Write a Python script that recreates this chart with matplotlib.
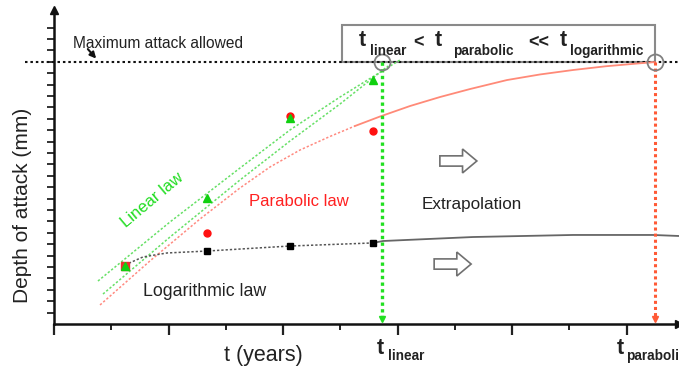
import matplotlib
matplotlib.use("Agg")
import matplotlib.pyplot as plt
import matplotlib.patches as mpatches

plt.rcParams['font.family'] = ['Liberation Sans', 'DejaVu Sans']

# ---------------- data (time units / depth units) ----------------
times = [0.62, 1.34, 2.06, 2.79]
linear_pts = [5.09, 11.05, 18.07, 21.40]
parabolic_pts = [5.09, 7.98, 18.25, 16.93]
log_pts = [5.09, 6.40, 6.84, 7.11]

linear_fit_a_t = [0.384, 1.013, 1.624, 2.061, 2.498, 3.022]
linear_fit_a_d = [3.77, 8.95, 13.68, 17.02, 19.91, 23.16]
linear_fit_b_t = [0.428, 1.013, 1.624, 2.061, 2.498, 2.917]
linear_fit_b_d = [2.63, 7.63, 12.63, 16.05, 19.30, 22.63]

parab_fit_t = [0.402, 0.838, 1.275, 1.624, 1.886, 2.148, 2.410, 2.629]
parab_fit_d = [1.67, 5.53, 9.21, 11.93, 13.77, 15.26, 16.45, 17.37]
parab_extra_t = [2.629, 2.847, 3.109, 3.371, 3.633, 3.956, 4.245, 4.533, 4.821, 5.118, 5.249]
parab_extra_d = [17.37, 18.20, 19.12, 19.91, 20.61, 21.40, 21.89, 22.28, 22.61, 22.87, 22.98]

log_fit_t = [0.620, 0.777, 0.987, 1.336, 2.061, 2.786]
log_fit_d = [5.18, 5.88, 6.23, 6.40, 6.84, 7.11]
log_extra_t = [2.786, 2.873, 3.659, 4.533, 5.231, 5.459]
log_extra_d = [7.11, 7.28, 7.63, 7.81, 7.81, 7.72]

max_attack = 23.0
t_linear = 2.865
t_parabolic = 5.249

x_major = [0, 1, 2, 3, 4, 5]
x_minor = [0.5, 1.5, 2.5, 3.5, 4.5]
y_ticks = list(range(1, 27))

# ---------------- figure ----------------
W, H = 679, 368
fig = plt.figure(figsize=(W / 100, H / 100), dpi=100)
ax = fig.add_axes([54 / W, 44 / H, 625 / W, 314 / H])
ax.set_xlim(0, 625 / 114.5)
ax.set_ylim(0, 314 / 11.4)

for s in ['top', 'right']:
    ax.spines[s].set_visible(False)
for s in ['left', 'bottom']:
    ax.spines[s].set_linewidth(1.8)
    ax.spines[s].set_color('#111111')

ax.set_xticks(x_major)
ax.set_xticks(x_minor, minor=True)
ax.set_xticklabels([])
ax.tick_params(axis='x', which='major', direction='out', length=8, width=1.6, color='#222222')
ax.tick_params(axis='x', which='minor', direction='out', length=4, width=1.4, color='#222222')
ax.set_yticks(y_ticks)
ax.set_yticklabels([])
ax.tick_params(axis='y', which='major', direction='out', length=5, width=1.3, color='#222222')

# axis arrowheads
ax.plot([0], [1.0], marker='^', color='#111111', ms=6, transform=ax.transAxes, clip_on=False)
ax.plot([1.0], [0], marker='>', color='#111111', ms=6, transform=ax.transAxes, clip_on=False)

# box with relation text (drawn below the dotted line)
rect = mpatches.Rectangle((2.515, max_attack), 2.734, 3.25, facecolor='white',
                          edgecolor='#8a8a8a', lw=1.5, clip_on=False, zorder=1)
ax.add_patch(rect)

# maximum attack line
ax.plot([-0.253, 625 / 114.5], [max_attack, max_attack], color='#111111', lw=1.5,
        linestyle=(0, (1.2, 1.4)), clip_on=False, zorder=2)

# fits
ax.plot(linear_fit_a_t, linear_fit_a_d, color='#66e066', lw=1.1, linestyle=(0, (1.5, 1.3)), zorder=3)
ax.plot(linear_fit_b_t, linear_fit_b_d, color='#66e066', lw=1.1, linestyle=(0, (1.5, 1.3)), zorder=3)
ax.plot(parab_fit_t, parab_fit_d, color='#ff8a80', lw=1.1, linestyle=(0, (1.5, 1.3)), zorder=3)
ax.plot(parab_extra_t, parab_extra_d, color='#ff8a78', lw=1.3, zorder=3)
ax.plot(log_fit_t, log_fit_d, color='#555555', lw=1.1, linestyle=(0, (1.5, 1.3)), zorder=3)
ax.plot(log_extra_t, log_extra_d, color='#666666', lw=1.3, zorder=3)

# vertical extrapolation lines
ax.plot([t_linear, t_linear], [max_attack, 0.45], color='#22e022', lw=2.4,
        linestyle=(0, (1, 1)), zorder=4)
ax.plot([t_linear], [0.4], marker='v', color='#22e022', ms=5, zorder=5)
ax.plot([t_parabolic, t_parabolic], [max_attack, 0.45], color='#ff5a36', lw=2.2,
        linestyle=(0, (1, 1)), zorder=4)
ax.plot([t_parabolic], [0.4], marker='v', color='#ff5a36', ms=5, zorder=5)

# circles at crossing points
ax.plot([t_linear, t_parabolic], [max_attack, max_attack], 'o', mfc='none', mec='#808080',
        ms=11.5, mew=1.3, zorder=6, clip_on=False)

# data points
ax.plot(times, log_pts, 's', color='#000000', ms=5, zorder=7)
ax.plot(times[1:], parabolic_pts[1:], 'o', color='#ff1010', ms=5, zorder=7)
ax.plot(times[:1], parabolic_pts[:1], 's', color='#e83030', ms=6, zorder=7)
ax.plot(times, linear_pts, '^', color='#10d010', ms=5.5, zorder=8)

# hollow arrows
for x0, y0 in [(3.37, 14.3), (3.32, 5.26)]:
    arr = mpatches.FancyArrow(x0, y0, 0.323, 0, width=0.9, head_width=2.1,
                              head_length=0.125, length_includes_head=True,
                              facecolor='white', edgecolor='#707070', lw=1.2, zorder=5)
    ax.add_patch(arr)


def ftext(px, py, s, **kw):
    fig.text(px / W, 1 - py / H, s, **kw)


tc = '#222222'
ftext(73, 43, 'Maximum attack allowed', fontsize=11.2, color=tc, va='center', ha='left')
ax.annotate('', xy=((98 - 54) / 114.5, max_attack + 0.1),
            xytext=((86 - 54) / 114.5, max_attack + 1.3),
            arrowprops=dict(arrowstyle='-|>', color='#111111', lw=1.5,
                            mutation_scale=9), annotation_clip=False)

ftext(152, 200, 'Linear law', fontsize=12, color='#22dd22', rotation=40,
      ha='center', va='center')
ftext(299, 202, 'Parabolic law', fontsize=12, color='#ff2020', ha='center', va='center')
ftext(472, 205, 'Extrapolation', fontsize=12.3, color=tc, ha='center', va='center')
ftext(205, 291, 'Logarithmic law', fontsize=12.8, color=tc, ha='center', va='center')

ftext(22, 205, 'Depth of attack (mm)', fontsize=15, color=tc, rotation=90,
      ha='center', va='center')
ftext(263, 355, 't (years)', fontsize=15.5, color=tc, ha='center', va='center')

# box text
bold = dict(fontweight='bold', color=tc)
ftext(362, 41, 't', fontsize=15.5, ha='center', va='center', **bold)
ftext(370, 51, 'linear', fontsize=9.8, ha='left', va='center', **bold)
ftext(418, 43, '<', fontsize=13, ha='center', va='center', **bold)
ftext(438, 41, 't', fontsize=15.5, ha='center', va='center', **bold)
ftext(453, 51, 'parabolic', fontsize=9.8, ha='left', va='center', **bold)
ftext(539, 43, '<<', fontsize=13, ha='center', va='center', **bold)
ftext(563, 41, 't', fontsize=15.5, ha='center', va='center', **bold)
ftext(570, 51, 'logarithmic', fontsize=9.8, ha='left', va='center', **bold)

# axis labels of special times (the second one runs off the right edge, as in the original)
ftext(380, 348, 't', fontsize=15.5, ha='center', va='center', **bold)
ftext(388, 356, 'linear', fontsize=9.8, ha='left', va='center', **bold)
ftext(620, 348, 't', fontsize=15.5, ha='center', va='center', **bold)
ftext(626, 356, 'parabolic', fontsize=9.8, ha='left', va='center', **bold)

fig.savefig('out.png', dpi=100)
